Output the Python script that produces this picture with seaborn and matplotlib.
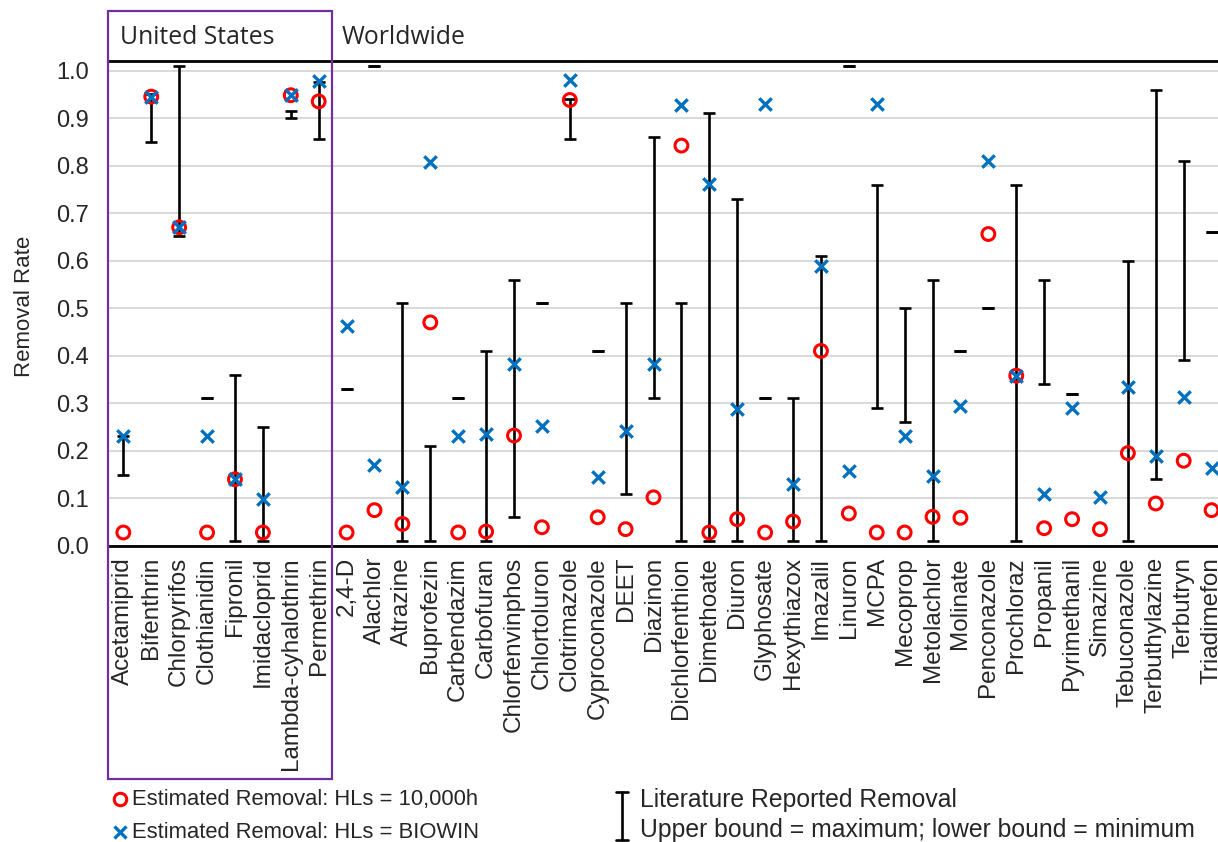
"""
Estimated vs literature-reported removal rates, US and worldwide compounds.
Run: python plot.py
"""

import numpy as np
import matplotlib.pyplot as plt
from matplotlib.lines import Line2D
from matplotlib.patches import Rectangle
import seaborn as sns

sns.set_theme(style="white")
plt.rcParams["font.family"] = ["Liberation Sans", "DejaVu Sans"]

compounds = [
    "Acetamiprid", "Bifenthrin", "Chlorpyrifos", "Clothianidin", "Fipronil",
    "Imidacloprid", "Lambda-cyhalothrin", "Permethrin",
    "2,4-D", "Alachlor", "Atrazine", "Buprofezin", "Carbendazim", "Carbofuran",
    "Chlorfenvinphos", "Chlortoluron", "Clotrimazole", "Cyproconazole", "DEET",
    "Diazinon", "Dichlorfenthion", "Dimethoate", "Diuron", "Glyphosate",
    "Hexythiazox", "Imazalil", "Linuron", "MCPA", "Mecoprop", "Metolachlor",
    "Molinate", "Penconazole", "Prochloraz", "Propanil", "Pyrimethanil",
    "Simazine", "Tebuconazole", "Terbuthylazine", "Terbutryn", "Triadimefon",
]
n_us = 8

est_10000h = [
    0.028, 0.945, 0.67, 0.028, 0.14, 0.028, 0.948, 0.935,
    0.028, 0.075, 0.046, 0.47, 0.028, 0.03, 0.232, 0.039, 0.938, 0.06, 0.035,
    0.102, 0.842, 0.028, 0.056, 0.028, 0.051, 0.41, 0.068, 0.028, 0.028, 0.061,
    0.059, 0.656, 0.358, 0.037, 0.056, 0.035, 0.195, 0.089, 0.179, 0.075,
]
est_biowin = [
    0.23, 0.945, 0.67, 0.23, 0.14, 0.098, 0.948, 0.978,
    0.463, 0.169, 0.124, 0.807, 0.232, 0.235, 0.383, 0.253, 0.98, 0.144, 0.242,
    0.382, 0.928, 0.761, 0.288, 0.93, 0.13, 0.588, 0.157, 0.93, 0.232, 0.147,
    0.295, 0.81, 0.358, 0.11, 0.289, 0.103, 0.334, 0.188, 0.314, 0.164,
]
lit_min = [
    0.15, 0.85, 0.652, 0.31, 0.01, 0.01, 0.90, 0.856,
    0.33, 1.009, 0.01, 0.01, 0.31, 0.01, 0.06, 0.51, 0.855, 0.41, 0.11,
    0.31, 0.01, 0.01, 0.01, 0.31, 0.01, 0.01, 1.009, 0.29, 0.26, 0.01,
    0.41, 0.50, 0.01, 0.34, 0.32, np.nan, 0.01, 0.14, 0.39, 0.66,
]
lit_max = [
    0.23, 0.95, 1.009, 0.31, 0.36, 0.25, 0.915, 0.975,
    0.33, 1.009, 0.51, 0.21, 0.31, 0.41, 0.56, 0.51, 0.94, 0.41, 0.51,
    0.86, 0.51, 0.91, 0.73, 0.31, 0.31, 0.61, 1.009, 0.76, 0.50, 0.56,
    0.41, 0.50, 0.76, 0.56, 0.32, np.nan, 0.60, 0.96, 0.81, 0.66,
]

RED = "#FF0000"
BLUE = "#0070C0"
PURPLE = "#7030A0"

W, H = 1218, 842
fig = plt.figure(figsize=(W / 100, H / 100), dpi=100)
ax = fig.add_axes([109.4 / W, 1 - 545.8 / H, 1 - 109.4 / W, (545.8 - 61) / H])

x = np.arange(len(compounds))
lo = np.array(lit_min)
hi = np.array(lit_max)
mid = (lo + hi) / 2

# --- literature range bars (a single dash where min == max) ---
ax.errorbar(x, mid, yerr=[mid - lo, hi - mid], fmt="none", ecolor="black",
            elinewidth=1.9, capsize=4.2, capthick=1.9, zorder=2)

# --- estimated removals ---
sns.scatterplot(x=x, y=est_10000h, marker="o", s=85, facecolor="none",
                edgecolor=RED, linewidth=2.2, ax=ax, zorder=3)
sns.scatterplot(x=x, y=est_biowin, marker="x", s=80, color=BLUE,
                linewidth=2.4, ax=ax, zorder=4)

ax.set_xlim(-0.5, 39.23)
ax.set_ylim(0, 1.02)
ax.set_yticks(np.arange(0, 1.01, 0.1))
ax.yaxis.set_major_formatter(plt.FormatStrFormatter("%.1f"))
ax.set_xticks(x)
ax.set_xticklabels(compounds, rotation=90, va="top", ha="center")
ax.tick_params(axis="x", length=0, pad=8, labelsize=17.5)
ax.tick_params(axis="y", length=0, pad=15, labelsize=17)
ax.grid(axis="y", color="#D9D9D9", linewidth=1.4, zorder=0)
ax.set_axisbelow(True)
for side in ("left", "right"):
    ax.spines[side].set_visible(False)
for side in ("top", "bottom"):
    ax.spines[side].set_color("black")
    ax.spines[side].set_linewidth(2)
ax.set_xlabel("")
ax.set_ylabel("")

fig.text(25 / W, 1 - 306 / H, "Removal Rate", rotation=90, ha="center",
         va="center", fontsize=16)

# --- group headers and US box ---
fig.text(120 / W, 1 - 37 / H, "United States", ha="left", va="center",
         fontsize=17.8, family=["Open Sans", "DejaVu Sans"])
fig.text(342 / W, 1 - 37 / H, "Worldwide", ha="left", va="center",
         fontsize=17.8, family=["Open Sans", "DejaVu Sans"])
fig.patches.append(Rectangle((108 / W, 1 - 779 / H), (332 - 108) / W,
                             (779 - 10.5) / H, transform=fig.transFigure,
                             fill=False, edgecolor=PURPLE, linewidth=1.6))

# --- legend ---
fig.add_artist(Line2D([120 / W], [1 - 799 / H], marker="o", markersize=9,
                      markerfacecolor="none", markeredgecolor=RED,
                      markeredgewidth=2.2, transform=fig.transFigure))
fig.add_artist(Line2D([120 / W], [1 - 832 / H], marker="x", markersize=9,
                      color=BLUE, markeredgewidth=2.4,
                      transform=fig.transFigure))
fig.text(132 / W, 1 - 800 / H, "Estimated Removal: HLs = 10,000h",
         ha="left", va="center", fontsize=15.8)
fig.text(132 / W, 1 - 832 / H, "Estimated Removal: HLs = BIOWIN",
         ha="left", va="center", fontsize=15.8)
fig.add_artist(Line2D([622 / W, 622 / W], [1 - 792 / H, 1 - 840 / H],
                      color="black", linewidth=1.9, transform=fig.transFigure))
for yy in (792, 840):
    fig.add_artist(Line2D([616 / W, 628 / W], [1 - yy / H, 1 - yy / H],
                          color="black", linewidth=1.9,
                          transform=fig.transFigure))
fig.text(640 / W, 1 - 800 / H, "Literature Reported Removal",
         ha="left", va="center", fontsize=17.8)
fig.text(640 / W, 1 - 830 / H, "Upper bound = maximum; lower bound = minimum",
         ha="left", va="center", fontsize=17.8)

fig.savefig("out.png", dpi=100)
